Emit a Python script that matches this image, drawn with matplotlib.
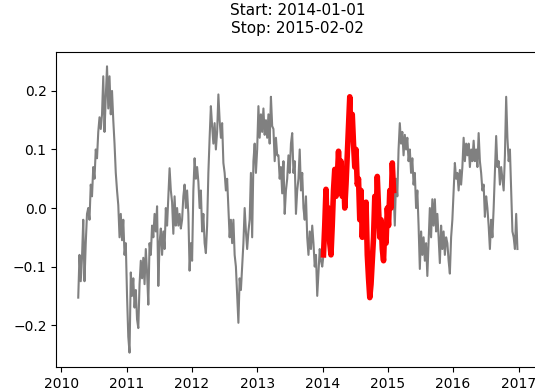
import pandas as pd
import matplotlib
matplotlib.use('Agg')
import matplotlib.pyplot as plt
import matplotlib.dates as mdates

# weekly values, starting 2010-04-05
start_date = '2010-04-05'
values = [
    -0.153, -0.08, -0.125, -0.085,   -0.02, -0.125, -0.06, -0.01,
    0.0, -0.02, 0.04, 0.02,          0.07, 0.05, 0.10, 0.085,
    0.13, 0.155, 0.135, 0.16,        0.225, 0.13, 0.19, 0.242,
    0.17, 0.225, 0.16, 0.20,         0.15, 0.11, 0.06, 0.03,
    0.005, -0.05, -0.01, -0.055,     -0.02, -0.08, -0.06, -0.15,
    -0.22, -0.247, -0.11, -0.15,     -0.12, -0.17, -0.14, -0.19,
    -0.205, -0.13, -0.09, -0.12,     -0.085, -0.13, -0.07, -0.11,
    -0.165, -0.06, -0.08, -0.03,     -0.05, -0.01, -0.04, 0.003,
    -0.133, -0.06, -0.035, -0.08,    -0.04, -0.07, 0.0, -0.03,
    0.02, 0.068, 0.03, 0.01,         -0.044, 0.02, -0.03, 0.0,
    -0.03, -0.01, -0.035, -0.02,     0.02, 0.04, 0.0, 0.03,
    -0.01, -0.107, -0.06, -0.09,     0.03, 0.085, 0.05, 0.07,
    0.045, 0.0, 0.03, -0.04,         -0.01, -0.06, -0.077, -0.03,
    0.06, 0.12, 0.174, 0.14,         0.11, 0.145, 0.10, 0.13,
    0.194, 0.15, 0.12, 0.145,        0.077, 0.06, 0.03, 0.05,
    0.0, -0.05, -0.02, -0.06,        -0.02, -0.08, -0.10, -0.15,
    -0.196, -0.12, -0.14, -0.10,     -0.06, 0.0, -0.04, -0.07,
    -0.04, -0.02, 0.06, -0.05,       0.08, 0.11, 0.06, 0.10,
    0.174, 0.12, 0.16, 0.13,         0.17, 0.125, 0.15, 0.12,
    0.16, 0.11, 0.19, 0.14,          0.135, 0.08, 0.12, 0.09,
    0.09, 0.05, 0.07, 0.025,         0.08, -0.01, 0.03, 0.05,
    0.09, 0.06, 0.11, 0.128,         0.06, 0.08, -0.01, 0.03,
    0.05, 0.10, 0.03, 0.06,          0.0, -0.02, 0.02, -0.05,
    -0.08, -0.04, -0.07, -0.03,      -0.06, -0.10, -0.08, -0.15,
    -0.11, -0.07, -0.09, -0.10,      -0.08, -0.03, 0.032, -0.04,
    0.0, -0.06, -0.08, -0.03,        0.03, 0.066, 0.02, 0.05,
    0.097, 0.05, 0.08, 0.02,         0.06, 0.0, 0.04, 0.09,
    0.14, 0.19, 0.12, 0.16,          0.11, 0.07, 0.10, 0.04,
    0.05, -0.02, 0.03, -0.05,        0.0, -0.04, 0.01, -0.08,
    -0.12, -0.153, -0.13, -0.09,     -0.05, 0.02, -0.02, 0.054,
    0.0, -0.05, -0.02, -0.07,        -0.09, -0.03, -0.06, 0.0,
    -0.03, 0.03, 0.0, 0.077,         0.03, -0.03, 0.05, 0.02,
    0.10, 0.145, 0.11, 0.13,         0.09, 0.125, 0.10, 0.12,
    0.08, 0.10, 0.06, 0.085,         0.04, 0.06, 0.0, 0.03,
    -0.03, -0.104, -0.04, -0.08,     -0.05, -0.09, -0.06, -0.116,
    -0.06, 0.0, -0.05, 0.015,        -0.03, 0.015, -0.04, -0.01,
    -0.05, -0.094, -0.03, -0.07,     -0.04, -0.08, -0.05, -0.06,
    -0.09, -0.112, -0.05, -0.02,     0.03, 0.077, 0.05, 0.06,
    0.03, 0.065, 0.04, 0.07,         0.12, 0.08, 0.11, 0.09,
    0.11, 0.07, 0.10, 0.08,          0.115, 0.08, 0.10, 0.07,
    0.128, 0.08, 0.06, 0.03,         0.04, -0.015, 0.02, 0.0,
    -0.03, -0.07, -0.02, -0.05,      0.0, 0.06, 0.123, 0.07,
    0.08, 0.04, 0.07, 0.05,          0.03, 0.09, 0.19, 0.12,
    0.08, 0.10, 0.03, -0.04,         -0.05, -0.07, -0.01, -0.07,
]

hl_start = '2014-01-01'
hl_stop = '2015-02-02'

s = pd.Series(values, index=pd.date_range(start_date, periods=len(values), freq='7D'))
sub = s[(s.index >= hl_start) & (s.index <= hl_stop)]

fig = plt.figure(figsize=(5.35, 3.91), dpi=100)
ax = fig.add_axes([0.1052, 0.0614, 0.903, 0.8056])

ax.plot(s.index, s.values, color='grey', lw=1.5)
ax.plot(sub.index, sub.values, color='red', lw=4)

ax.xaxis.set_major_locator(mdates.YearLocator())
ax.xaxis.set_major_formatter(mdates.DateFormatter('%Y'))
ax.set_title('Start: %s\nStop: %s' % (hl_start, hl_stop), fontsize=11, pad=14)

fig.savefig('out.png', dpi=100)
